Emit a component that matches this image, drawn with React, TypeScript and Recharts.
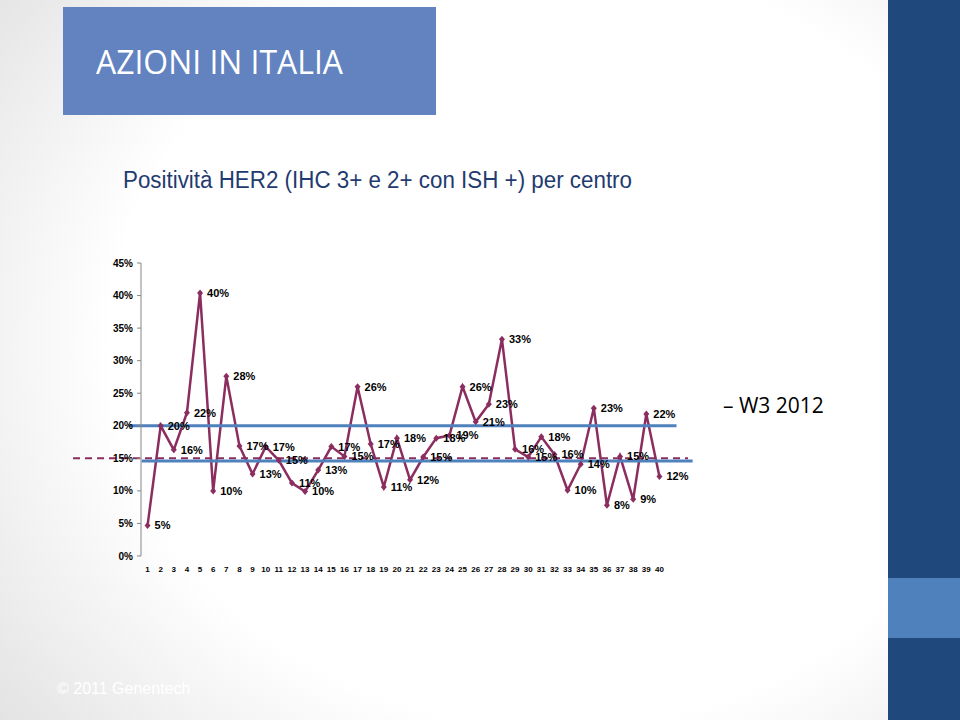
import React from "react";
import { LineChart, Line, XAxis, YAxis, ReferenceLine, LabelList, Legend } from "recharts";

// centri partecipanti (asse x)
const centri = [
  1, 2, 3, 4, 5, 6, 7, 8, 9, 10, 11, 12, 13, 14, 15, 16, 17, 18, 19, 20,
  21, 22, 23, 24, 25, 26, 27, 28, 29, 30, 31, 32, 33, 34, 35, 36, 37, 38, 39, 40,
];
// % positività HER2 per centro
const positivita = [
  4.7, 20.0, 16.3, 22.0, 40.4, 10.0, 27.6, 16.9, 12.6, 16.8,
  14.7, 11.2, 9.9, 13.2, 16.8, 15.3, 26.0, 17.2, 10.6, 18.1,
  11.7, 15.2, 18.1, 18.5, 26.0, 20.6, 23.3, 33.3, 16.4, 15.2,
  18.3, 15.6, 10.1, 14.1, 22.7, 7.8, 15.3, 8.7, 21.8, 12.2,
];
const yTicks = [0, 5, 10, 15, 20, 25, 30, 35, 40, 45];
const serieNome = "W3 2012";
const mediaAttesa = 15;
const rangeAlto = 20;
const rangeBasso = 14.6;

const data = centri.map((c, i) => ({ centro: c, val: positivita[i] }));
const bordi = [0.5, ...centri.map((c) => c + 0.5)];

const WINE = "#8B2D5F";
const BLUE = "#4F81BD";
const AXIS = "#868686";
const ARIAL = "'Liberation Sans', Arial, sans-serif";
const LEGEND_W = 150;

function Rombo(props: any) {
  const { cx, cy } = props;
  if (cx == null || cy == null) return null;
  return <path d={`M${cx},${cy - 3.5}L${cx + 3},${cy}L${cx},${cy + 3.5}L${cx - 3},${cy}Z`} fill={WINE} />;
}

function Legenda() {
  return (
    <div style={{ fontFamily: "'Open Sans', sans-serif", fontSize: 21, color: "#000", whiteSpace: "nowrap" }}>
      – {serieNome}
    </div>
  );
}

export default function App() {
  return (
    <div style={{ position: "relative", width: 960, height: 720, overflow: "hidden" }}>
      <style>{"body{margin:0}"}</style>
      <div
        style={{
          position: "absolute", inset: 0,
          background: "radial-gradient(ellipse 75% 85% at 58% 48%, #ffffff 62%, #e2e2e2 100%)",
        }}
      />
      <div style={{ position: "absolute", left: 888, top: 0, width: 72, height: 720, background: "#1F497D" }} />
      <div style={{ position: "absolute", left: 888, top: 578, width: 72, height: 60, background: "#4F81BD" }} />
      <div style={{ position: "absolute", left: 63, top: 7, width: 373, height: 108, background: "#6283BF" }} />
      <svg width={960} height={720} style={{ position: "absolute", left: 0, top: 0 }}>
        <text x={96} y={74} fontSize={33} fill="#fff" fontFamily="'Open Sans', sans-serif" textLength={247} lengthAdjust="spacingAndGlyphs">
          AZIONI IN ITALIA
        </text>
        <text x={123} y={188} fontSize={23} fill="#1F3B70" fontFamily={ARIAL} textLength={509} lengthAdjust="spacingAndGlyphs">
          Positività HER2 (IHC 3+ e 2+ con ISH +) per centro
        </text>
        <text x={57} y={694} fontSize={16} fill="#fff" fontFamily={ARIAL}>
          © 2011 Genentech
        </text>
      </svg>
      <div style={{ position: "absolute", left: 0, top: 0 }}>
        {/* the legend reserves its own width on the right, so the margin leaves that out */}
        <LineChart width={960} height={720} data={data} margin={{ top: 263, right: 294 - LEGEND_W, bottom: 144, left: 0 }}>
          <XAxis
            xAxisId="bordi" type="number" dataKey="centro" domain={[0.5, 40.5]} ticks={bordi} interval={0}
            tick={false} tickSize={3} height={0} allowDataOverflow
            axisLine={{ stroke: AXIS }} tickLine={{ stroke: AXIS }}
          />
          <XAxis
            xAxisId="centri" type="number" dataKey="centro" domain={[0.5, 40.5]} ticks={centri} interval={0}
            tickLine={false} axisLine={false} tickSize={6} tickMargin={4} height={20} allowDataOverflow
            tick={{ fontSize: 8, fontWeight: 700, fill: "#000", fontFamily: ARIAL }}
          />
          <YAxis
            type="number" domain={[0, 45]} ticks={yTicks} interval={0} width={141}
            tickFormatter={(v: number) => `${v}%`} tickSize={4} tickMargin={4}
            axisLine={{ stroke: AXIS }} tickLine={{ stroke: AXIS }}
            tick={{ fontSize: 10, fontWeight: 700, fill: "#000", fontFamily: ARIAL }}
          />
          <Legend
            content={<Legenda />} layout="horizontal" verticalAlign="middle" align="right"
            width={LEGEND_W} wrapperStyle={{ left: 723, top: 391 }}
          />
          <ReferenceLine
            xAxisId="centri" ifOverflow="visible"
            segment={[{ x: -4.68, y: mediaAttesa }, { x: 42.18, y: mediaAttesa }]}
            stroke={WINE} strokeWidth={2} strokeDasharray="7 5"
          />
          <Line
            xAxisId="centri" dataKey="val" name={serieNome} stroke={WINE} strokeWidth={2.5}
            dot={(p: any) => <Rombo key={p.index} {...p} />} activeDot={false} isAnimationActive={false}
          >
            <LabelList
              dataKey="val" position="right" offset={7}
              formatter={(v: any) => `${Math.round(Number(v))}%`}
              fill="#000" fontSize={11} fontWeight={700} fontFamily={ARIAL}
            />
          </Line>
          <ReferenceLine
            xAxisId="centri" ifOverflow="visible"
            segment={[{ x: -0.47, y: rangeAlto }, { x: 41.3, y: rangeAlto }]}
            stroke={BLUE} strokeWidth={3}
          />
          <ReferenceLine
            xAxisId="centri" ifOverflow="visible"
            segment={[{ x: 0.55, y: rangeBasso }, { x: 42.53, y: rangeBasso }]}
            stroke={BLUE} strokeWidth={3}
          />
        </LineChart>
      </div>
    </div>
  );
}
